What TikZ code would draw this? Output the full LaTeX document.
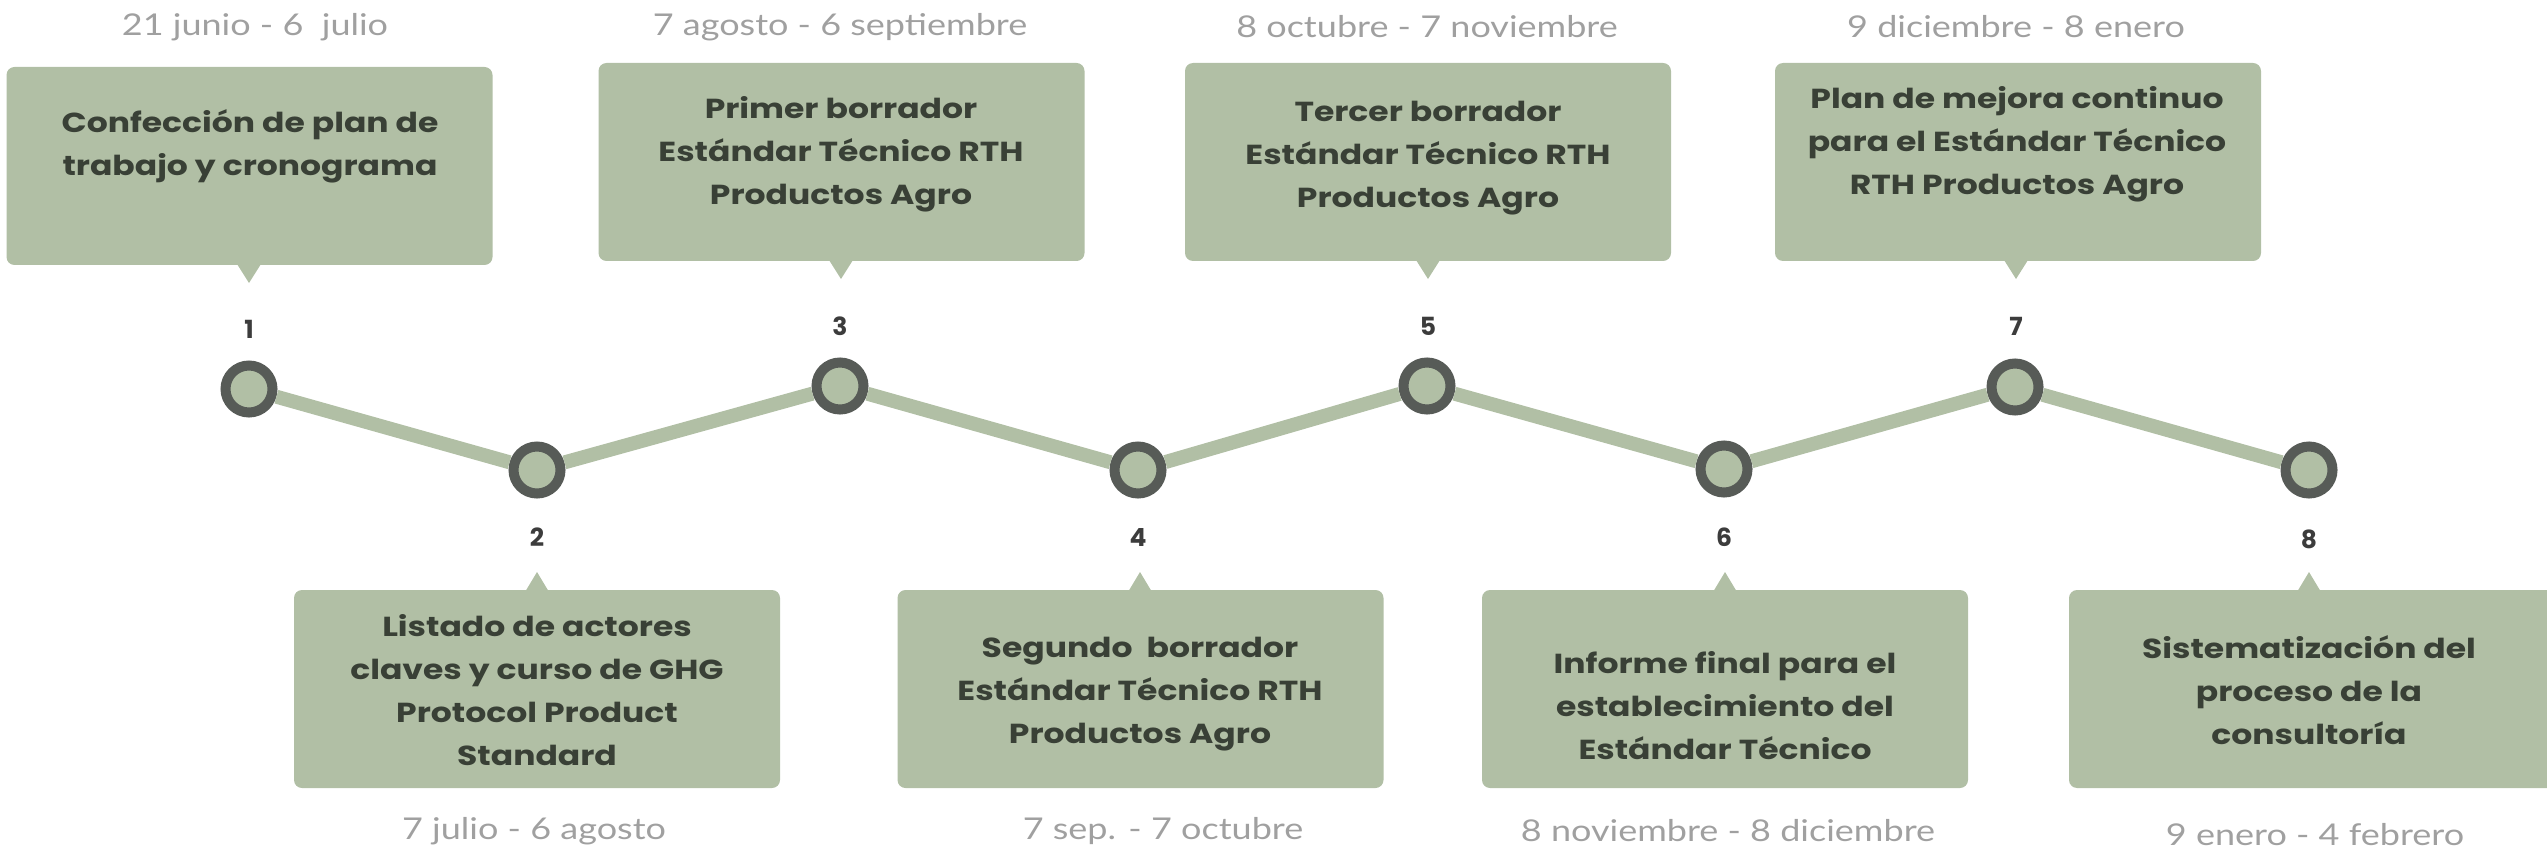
\documentclass[tikz,border=0pt]{standalone}
\usepackage{fontspec}
\setmainfont{Poppins}
\newfontfamily\boxfont{Poppins}[FakeStretch=1.2]
\newfontfamily\datefont{Lato}[FakeStretch=1.2]
\definecolor{boxgreen}{HTML}{B1BFA5}
\definecolor{ringgray}{HTML}{575B57}
\definecolor{textdark}{HTML}{394036}
\definecolor{dategray}{HTML}{A0A0A0}
\definecolor{numdark}{HTML}{3C3C3C}
\begin{document}
\begin{tikzpicture}[x=1pt,y=-1pt,
  box/.style={fill=boxgreen, rounded corners=8pt, inner sep=0pt, minimum width=486pt, minimum height=198pt},
  btext/.style={align=center, text=textdark, inner sep=0pt, font=\boxfont\bfseries\fontsize{27.5}{43}\selectfont},
  datelbl/.style={text=dategray, inner sep=0pt, font=\datefont\fontsize{30}{32}\selectfont},
  num/.style={text=numdark, inner sep=0pt, font=\bfseries\fontsize{25}{27}\selectfont},
  dot/.style={circle, draw=ringgray, line width=10pt, fill=boxgreen, minimum size=47pt, inner sep=0pt},
  link/.style={draw=boxgreen, line width=14pt}]
\useasboundingbox (0,0) rectangle (2547,850);

% upper boxes
\node[box] (b1) at (249.5,166) {};
\node[box] (b3) at (841.5,162) {};
\node[box] (b5) at (1428,162) {};
\node[box] (b7) at (2018,162) {};
% lower boxes
\node[box] (b2) at (537,689) {};
\node[box] (b4) at (1140.5,689) {};
\node[box] (b6) at (1725,689) {};
\node[box] (b8) at (2312,689) {};

% pointers
\fill[boxgreen] (237,264) -- (261,264) -- (249,283) -- cycle;
\fill[boxgreen] (829,260) -- (853,260) -- (841,279) -- cycle;
\fill[boxgreen] (1416,260) -- (1440,260) -- (1428,279) -- cycle;
\fill[boxgreen] (2004,260) -- (2028,260) -- (2016,279) -- cycle;
\fill[boxgreen] (525,592) -- (549,592) -- (537,572) -- cycle;
\fill[boxgreen] (1128,592) -- (1152,592) -- (1140,572) -- cycle;
\fill[boxgreen] (1713,592) -- (1737,592) -- (1725,572) -- cycle;
\fill[boxgreen] (2297,592) -- (2321,592) -- (2309,572) -- cycle;

% box texts
\node[btext] (t1) at (250,146) {Confección de plan de\\trabajo y cronograma};
\node[btext] (t3) at (841,154) {Primer borrador\\Estándar Técnico RTH\\Productos Agro};
\node[btext] (t5) at (1428,158) {Tercer borrador\\Estándar Técnico RTH\\Productos Agro};
\node[btext] (t7) at (2017,144) {Plan de mejora continuo\\para el Estándar Técnico\\RTH Productos Agro};
\node[btext] (t2) at (537,690) {Listado de actores\\claves y curso de GHG\\Protocol Product\\Standard};
\node[btext] (t4) at (1140,694) {Segundo~ borrador\\Estándar Técnico RTH\\Productos Agro};
\node[btext] (t6) at (1725,706) {Informe final para el\\establecimiento del\\Estándar Técnico};
\node[btext] (t8) at (2309,690) {Sistematización del\\proceso de la\\consultoría};

% dates
\node[datelbl] (d1) at (255,27) {21 junio - 6~ julio};
\node[datelbl] (d3) at (840,27) {7 agosto - 6 septiembre};
\node[datelbl] (d5) at (1427,27) {8 octubre - 7 noviembre};
\node[datelbl] (d7) at (2016,27) {9 diciembre - 8 enero};
\node[datelbl] (d2) at (534,831) {7 julio - 6 agosto};
\node[datelbl] (d4) at (1163,831) {7 sep. - 7 octubre};
\node[datelbl] (d6) at (1728,831) {8 noviembre - 8 diciembre};
\node[datelbl] (d8) at (2315,835) {9 enero - 4 febrero};

% numbers
\node[num] (n1) at (249,329) {1};
\node[num] (n3) at (840,326) {3};
\node[num] (n5) at (1428,326) {5};
\node[num] (n7) at (2016,326) {7};
\node[num] (n2) at (537,537) {2};
\node[num] (n4) at (1138,537) {4};
\node[num] (n6) at (1724,537) {6};
\node[num] (n8) at (2309,539) {8};

% timeline
\node[dot] (c1) at (249,389) {};
\node[dot] (c2) at (537,470) {};
\node[dot] (c3) at (840,386) {};
\node[dot] (c4) at (1138,470) {};
\node[dot] (c5) at (1427,386) {};
\node[dot] (c6) at (1724,469) {};
\node[dot] (c7) at (2015,387) {};
\node[dot] (c8) at (2309,470) {};
\draw[link] (c1) -- (c2);
\draw[link] (c2) -- (c3);
\draw[link] (c3) -- (c4);
\draw[link] (c4) -- (c5);
\draw[link] (c5) -- (c6);
\draw[link] (c6) -- (c7);
\draw[link] (c7) -- (c8);
\end{tikzpicture}
\end{document}
